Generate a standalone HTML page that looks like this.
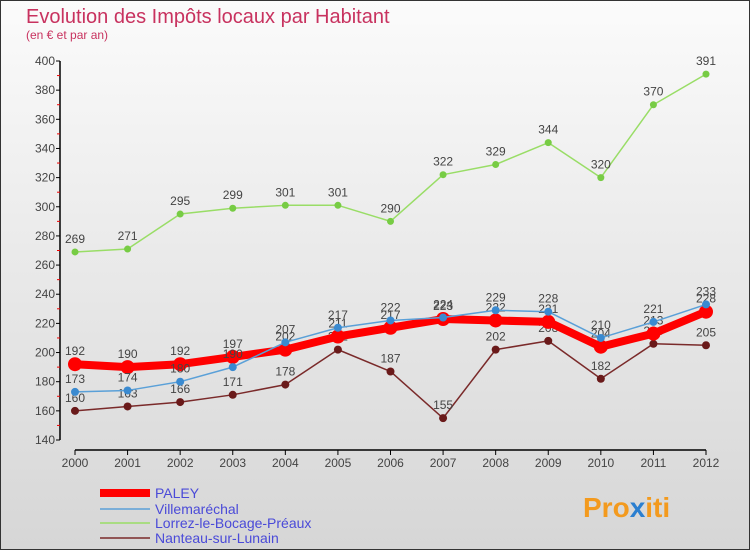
<!DOCTYPE html>
<html><head><meta charset="utf-8">
<style>
body{margin:0;}
svg{display:block;font-family:"Liberation Sans",sans-serif;}
</style></head>
<body>
<svg id="chart" width="750" height="550">
<defs>
<linearGradient id="bg" x1="0" y1="0" x2="0" y2="1">
<stop offset="0" stop-color="#fbfbfb"/><stop offset="1" stop-color="#d6d6d6"/>
</linearGradient>
</defs>
<rect x="0.5" y="0.5" width="749" height="549" fill="url(#bg)" stroke="#333"/>
<text x="26" y="23" font-size="20" fill="#c8325f">Evolution des Impôts locaux par Habitant</text>
<text x="26" y="39" font-size="12" fill="#c8325f">(en € et par an)</text>
<g id="axes"></g>
<g id="series"></g>
<g id="legend"></g>
<text x="583" y="517" font-size="28" font-weight="bold"><tspan fill="#f39a1e">Pro</tspan><tspan fill="#2b7fd0">x</tspan><tspan fill="#f39a1e">iti</tspan></text>
</svg>
<script>
const years=[2000,2001,2002,2003,2004,2005,2006,2007,2008,2009,2010,2011,2012];
const paley=[192,190,192,197,202,211,217,223,222,221,204,213,228];
const ville=[173,174,180,190,207,217,222,224,229,228,210,221,233];
const lorrez=[269,271,295,299,301,301,290,322,329,344,320,370,391];
const nanteau=[160,163,166,171,178,202,187,155,202,208,182,206,205];
const yTicks=[140,160,180,200,220,240,260,280,300,320,340,360,380,400];
const names=["PALEY","Villemaréchal","Lorrez-le-Bocage-Préaux","Nanteau-sur-Lunain"];

const NS="http://www.w3.org/2000/svg";
const X=i=>75+i*(706-75)/(years.length-1);
const Y=v=>440-(v-140)*(440-61)/260;
function mk(tag,attrs,parent){const e=document.createElementNS(NS,tag);for(const k in attrs)e.setAttribute(k,attrs[k]);parent.appendChild(e);return e;}
const axes=document.getElementById('axes');
let a=mk('line',{x1:60,y1:61,x2:60,y2:440,stroke:'#000','stroke-width':1.5},axes);

a=mk('line',{x1:75,y1:450,x2:706,y2:450,stroke:'#000','stroke-width':1.5},axes);

yTicks.forEach((t,i)=>{
  mk('line',{x1:56,y1:Y(t),x2:60,y2:Y(t),stroke:'#000'},axes);
  if(i<yTicks.length-1)mk('line',{x1:57,y1:Y(t+10),x2:60,y2:Y(t+10),stroke:'#e00'},axes);
  const tx=mk('text',{x:55,y:Y(t)+4,'font-size':12,fill:'#444','text-anchor':'end'},axes);
  tx.textContent=t;
  
});
years.forEach((y,i)=>{
  mk('line',{x1:X(i),y1:450,x2:X(i),y2:455,stroke:'#000'},axes);
  const tx=mk('text',{x:X(i),y:467,'font-size':12,fill:'#444','text-anchor':'middle'},axes);
  tx.textContent=y;
  
});
const ser=document.getElementById('series');
const defs=[
 {d:lorrez,c:'#99dd66',w:1.5,r:3.5,f:'#77cc44',n:'lorrez-line'},
 {d:nanteau,c:'#7a2a2a',w:1.5,r:4,f:'#6a1a1a',n:'nanteau-line'},
 {d:paley,c:'#ff0000',w:8,r:7,f:'#ff0000',n:'paley-line'},
 {d:ville,c:'#5aa0d8',w:1.5,r:4,f:'#3a8ad0',n:'villemarechal-line'}
];
defs.forEach(s=>{
  const g=mk('g',{},ser);
  
  const p=mk('polyline',{points:s.d.map((v,i)=>X(i)+','+Y(v)).join(' '),fill:'none',stroke:s.c,'stroke-width':s.w,'stroke-linejoin':'round'},g);
  s.d.forEach((v,i)=>{
    const c=mk('circle',{cx:X(i),cy:Y(v),r:s.r,fill:s.f},g);
    
    const t=mk('text',{x:X(i),y:Y(v)-9,'font-size':12,fill:'#444','text-anchor':'middle'},g);
    t.textContent=v;
    
  });
});
const leg=document.getElementById('legend');
const lc=[['#ff0000',8],['#5aa0d8',1.5],['#99dd66',1.5],['#7a2a2a',1.5]];
const ly=[493,509,523,538];
names.forEach((n,i)=>{
  mk('line',{x1:100,y1:ly[i],x2:150,y2:ly[i],stroke:lc[i][0],'stroke-width':lc[i][1]},leg);
  const t=mk('text',{x:155,y:ly[i]+5,'font-size':14,fill:'#4a4ad8'},leg);
  t.textContent=n;
  
});
</script>
</body></html>
